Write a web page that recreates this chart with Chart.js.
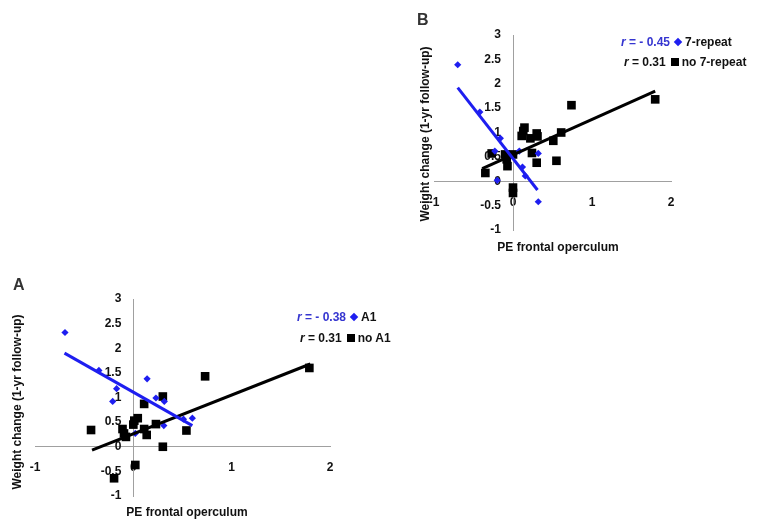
<!DOCTYPE html>
<html>
<head>
<meta charset="utf-8">
<script src="https://cdn.jsdelivr.net/npm/chart.js@4.4.1/dist/chart.umd.min.js"></script>
<style>
    body { margin: 0; background: #fff; font-family: "Liberation Sans", Arial, sans-serif; }
    #page { position: relative; width: 762px; height: 531px; overflow: hidden; }
    canvas { position: absolute; }
    .txt { position: absolute; font-weight: bold; font-size: 12px; line-height: 14px; color: #111; white-space: nowrap; }
    .panel { position: absolute; font-weight: bold; font-size: 16px; color: #333; }
    .ytitle { transform: translate(-50%, -50%) rotate(-90deg); }
    .xtitle { transform: translateX(-50%); }
    .blue { color: #3535d0; }
    .dia { display: inline-block; width: 6px; height: 6px; background: #1e1ef0; transform: rotate(45deg); margin: 0 4px 1px 5px; }
    .sq { display: inline-block; width: 8px; height: 8px; background: #000; margin: 0 3px 0 5px; }
</style>
</head>
<body>
<div id="page">
    <canvas id="chartB" width="287" height="245" style="left:409px;top:10px"></canvas>
    <canvas id="chartA" width="345" height="247" style="left:10px;top:274px"></canvas>

    <div class="panel" style="left:417px;top:11px">B</div>
    <div class="panel" style="left:13px;top:276px">A</div>

    <div class="txt ytitle" style="left:425px;top:134px">Weight change (1-yr follow-up)</div>
    <div class="txt xtitle" style="left:558px;top:240px">PE frontal operculum</div>
    <div class="txt ytitle" style="left:17px;top:402px">Weight change (1-yr follow-up)</div>
    <div class="txt xtitle" style="left:187px;top:505px">PE frontal operculum</div>

    <div class="txt" style="left:621px;top:35px"><span class="blue"><i>r</i> = - 0.45</span><span class="dia"></span>7-repeat</div>
    <div class="txt" style="left:624px;top:55px"><i>r</i> = 0.31<span class="sq"></span>no 7-repeat</div>
    <div class="txt" style="left:297px;top:310px"><span class="blue"><i>r</i> = - 0.38</span><span class="dia"></span>A1</div>
    <div class="txt" style="left:300px;top:331px"><i>r</i> = 0.31<span class="sq"></span>no A1</div>
</div>
<script>
// panel B: DRD4 7-repeat
const bRepeatX = [-0.70, -0.42, -0.16, -0.23, 0.08, 0.32, 0.12, 0.155, -0.20, 0.32];
const bRepeatY = [2.39, 1.42, 0.88, 0.62, 0.62, 0.57, 0.29, 0.11, 0.02, -0.42];
const bNoRepeatX = [-0.35, -0.27, -0.10, -0.08, -0.07, 0.00, 0.00, 0.00, 0.13, 0.11, 0.145, 0.22, 0.24, 0.30, 0.31, 0.30, 0.51, 0.55, 0.61, 0.74, 1.80];
const bNoRepeatY = [0.17, 0.57, 0.55, 0.45, 0.31, 0.55, -0.13, -0.24, 1.03, 0.93, 1.10, 0.88, 0.58, 0.98, 0.92, 0.38, 0.83, 0.42, 1.00, 1.56, 1.68];
const bFitRepeat = [[-0.70, 1.92], [0.31, -0.18]];
const bFitNoRepeat = [[-0.39, 0.26], [1.80, 1.85]];

// panel A: A1 allele
const aA1X = [-0.695, -0.35, -0.17, -0.21, 0.14, 0.23, 0.315, 0.31, 0.02, 0.51, 0.60];
const aA1Y = [2.32, 1.55, 1.18, 0.92, 1.38, 0.99, 0.92, 0.43, 0.27, 0.56, 0.58];
const aNoA1X = [-0.43, -0.11, -0.095, -0.075, 0.00, 0.01, 0.045, 0.11, 0.11, 0.136, 0.23, 0.30, 0.30, 0.54, 0.73, 0.02, -0.196, 1.79];
const aNoA1Y = [0.34, 0.36, 0.27, 0.20, 0.45, 0.53, 0.58, 0.87, 0.36, 0.24, 0.46, 1.02, 0.00, 0.33, 1.43, -0.37, -0.64, 1.60];
const aFitA1 = [[-0.70, 1.90], [0.60, 0.43]];
const aFitNoA1 = [[-0.42, -0.07], [1.80, 1.68]];

const xTicks = [-1, 0, 1, 2];
const yMin = -1, yMax = 3, yStep = 0.5;

const BLUE = "#1e1ef0";
const tickFont = { family: "Liberation Sans", size: 12, weight: "bold" };

function toPoints(xs, ys) {
    return xs.map((x, i) => ({ x: x, y: ys[i] }));
}

function pairPoints(pairs) {
    return pairs.map(p => ({ x: p[0], y: p[1] }));
}

// y labels on a crossing axis get no padding in Chart.js, push them left a bit
const yLabelGap = {
    id: "yLabelGap",
    beforeDraw(chart) {
        const items = chart.scales.y.getLabelItems();
        items.forEach(it => {
            if (it._moved) return;
            it.options.translation[0] -= 12;
            it._moved = true;
        });
    }
};

function makeChart(id, groupX, groupY, otherX, otherY, fitGroup, fitOther) {
    new Chart(document.getElementById(id), {
        type: "scatter",
        data: {
            datasets: [
                {
                    data: pairPoints(fitGroup),
                    showLine: true,
                    borderColor: BLUE,
                    borderWidth: 3,
                    pointRadius: 0,
                    order: 0
                },
                {
                    data: pairPoints(fitOther),
                    showLine: true,
                    borderColor: "#000",
                    borderWidth: 3,
                    pointRadius: 0,
                    order: 1
                },
                {
                    data: toPoints(groupX, groupY),
                    pointStyle: "rectRot",
                    pointRadius: 3.6,
                    backgroundColor: BLUE,
                    borderColor: BLUE,
                    borderWidth: 0,
                    order: 2
                },
                {
                    data: toPoints(otherX, otherY),
                    pointStyle: "rect",
                    pointRadius: 6.1,
                    backgroundColor: "#000",
                    borderColor: "#000",
                    borderWidth: 0,
                    order: 3
                }
            ]
        },
        options: {
            responsive: false,
            animation: false,
            layout: { padding: 25 },
            plugins: { legend: { display: false }, tooltip: { enabled: false } },
            scales: {
                x: {
                    type: "linear",
                    min: xTicks[0],
                    max: xTicks[xTicks.length - 1],
                    position: { y: 0 },
                    afterBuildTicks: s => { s.ticks = xTicks.map(v => ({ value: v })); },
                    grid: { display: false, drawTicks: false },
                    border: { display: true, color: "#a0a0a0", width: 1 },
                    ticks: { font: tickFont, color: "#111", padding: 14, maxRotation: 0, callback: v => String(v) }
                },
                y: {
                    type: "linear",
                    min: yMin,
                    max: yMax,
                    position: { x: 0 },
                    grid: { display: false, drawTicks: false },
                    border: { display: true, color: "#a0a0a0", width: 1 },
                    ticks: { font: tickFont, color: "#111", stepSize: yStep, callback: v => String(v) }
                }
            }
        },
        plugins: [yLabelGap]
    });
}

makeChart("chartB", bRepeatX, bRepeatY, bNoRepeatX, bNoRepeatY, bFitRepeat, bFitNoRepeat);
makeChart("chartA", aA1X, aA1Y, aNoA1X, aNoA1Y, aFitA1, aFitNoA1);
</script>
</body>
</html>
